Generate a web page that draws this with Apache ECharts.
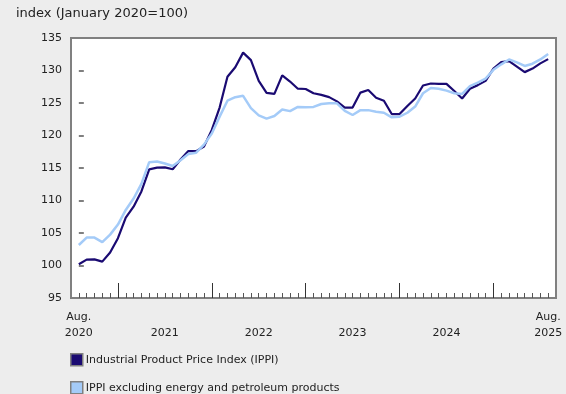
<!DOCTYPE html>
<html>
<head>
<meta charset="utf-8">
<script src="https://cdn.jsdelivr.net/npm/echarts@6/dist/echarts.min.js"></script>
<style>
html,body{margin:0;padding:0;background:#ededed;}
#chart{width:566px;height:394px;}
</style>
</head>
<body>
<div id="chart"></div>
<script>
// Monthly periods: August 2020 (index 0) to August 2025 (index 60)
var startYear = 2020, startMonth = 8;
var seriesNames = ['Industrial Product Price Index (IPPI)', 'IPPI excluding energy and petroleum products'];
var ippi = [100.2, 100.9, 100.95, 100.6, 102.0, 104.2, 107.35, 109.05, 111.4, 114.8,
  115.05, 115.1, 114.8, 116.3, 117.6, 117.6, 118.3, 120.85, 124.3, 129.05,
  130.5, 132.75, 131.6, 128.4, 126.55, 126.4, 129.25, 128.3, 127.2, 127.15,
  126.5, 126.25, 125.9, 125.25, 124.3, 124.3, 126.6, 127.0, 125.8, 125.35,
  123.3, 123.3, 124.55, 125.7, 127.7, 128.0, 127.95, 127.95, 126.85, 125.7,
  127.2, 127.75, 128.4, 130.3, 131.3, 131.45, 130.6, 129.75, 130.3, 131.1, 131.75];
var ippiExEnergy = [103.15, 104.3, 104.3, 103.6, 104.75, 106.3, 108.55, 110.3, 112.55, 115.9,
  116.0, 115.7, 115.3, 116.2, 117.15, 117.35, 118.6, 120.3, 122.9, 125.35,
  125.9, 126.1, 124.2, 123.1, 122.6, 123.0, 124.0, 123.75, 124.4, 124.35,
  124.4, 124.85, 124.95, 124.95, 123.8, 123.15, 123.9, 123.9, 123.65, 123.5,
  122.8, 122.9, 123.5, 124.45, 126.5, 127.3, 127.2, 126.9, 126.5, 126.4,
  127.6, 128.15, 128.75, 130.1, 130.95, 131.7, 131.25, 130.7, 131.05, 131.7, 132.55];
var xLabelIndex = [0, 11, 23, 35, 47, 60];
var xLabelText = ['Aug.\n2020', '\n2021', '\n2022', '\n2023', '\n2024', 'Aug.\n2025'];
var yearStartIndex = [5, 17, 29, 41, 53];
var yTicks = [95, 100, 105, 110, 115, 120, 125, 130, 135];

var monthIdx = ippi.map(function (_, i) { return i; });
function pairs(arr) { return arr.map(function (v, i) { return [monthIdx[i], v]; }); }

var FONT = 'DejaVu Sans';
function legendFor(name, top) {
  return {
    orient: 'horizontal', left: 70, top: top, padding: 0,
    itemWidth: 12, itemHeight: 12,
    icon: 'rect',
    itemStyle: {borderColor: '#808080', borderWidth: 1.5},
    textStyle: {fontFamily: FONT, fontSize: 11, color: '#222', padding: [0, 0, 0, -2]},
    data: [name]
  };
}
var chart = echarts.init(document.getElementById('chart'), null, {renderer: 'canvas'});
chart.setOption({
  animation: false,
  backgroundColor: '#ededed',
  textStyle: {fontFamily: FONT},
  title: {
    text: 'index (January 2020=100)',
    left: 16, top: 6, padding: 0,
    textStyle: {fontFamily: FONT, fontSize: 13, fontWeight: 'normal', color: '#222', lineHeight: 16}
  },
  grid: {
    left: 71, right: 10, top: 38, bottom: 96,
    show: true, backgroundColor: '#ffffff', borderColor: '#808080', borderWidth: 2
  },
  legend: [legendFor(seriesNames[0], 353), legendFor(seriesNames[1], 381)],
  xAxis: [{
    type: 'value', min: -1, max: 61,
    axisLine: {show: false},
    splitLine: {show: false},
    axisTick: {show: true, inside: true, length: 5, customValues: monthIdx, lineStyle: {color: '#555', width: 1}},
    axisLabel: {
      show: true, customValues: xLabelIndex, margin: 11,
      fontFamily: FONT, fontSize: 11, color: '#222', lineHeight: 16,
      formatter: function (v) { var k = xLabelIndex.indexOf(Math.round(v)); return k >= 0 ? xLabelText[k] : ''; }
    }
  }, {
    type: 'value', min: -1, max: 61, position: 'bottom',
    axisLine: {show: false},
    splitLine: {show: false},
    axisLabel: {show: false},
    axisTick: {show: true, inside: true, length: 15, customValues: yearStartIndex, lineStyle: {color: '#333', width: 1}}
  }],
  yAxis: {
    type: 'value', min: 95, max: 135, interval: 5,
    axisLine: {show: false},
    splitLine: {show: false},
    axisTick: {show: true, inside: true, length: 5, customValues: yTicks, lineStyle: {color: '#808080', width: 2}},
    axisLabel: {margin: 9, fontFamily: FONT, fontSize: 11, color: '#222'}
  },
  series: [{
    name: seriesNames[0], type: 'line', xAxisIndex: 0, data: pairs(ippi),
    showSymbol: false, color: '#1a0a72',
    lineStyle: {color: '#1a0a72', width: 2.2}
  }, {
    name: seriesNames[1], type: 'line', xAxisIndex: 0, data: pairs(ippiExEnergy),
    showSymbol: false, color: '#a4cbf8',
    lineStyle: {color: '#a4cbf8', width: 2.5}
  }]
});
</script>
</body>
</html>
